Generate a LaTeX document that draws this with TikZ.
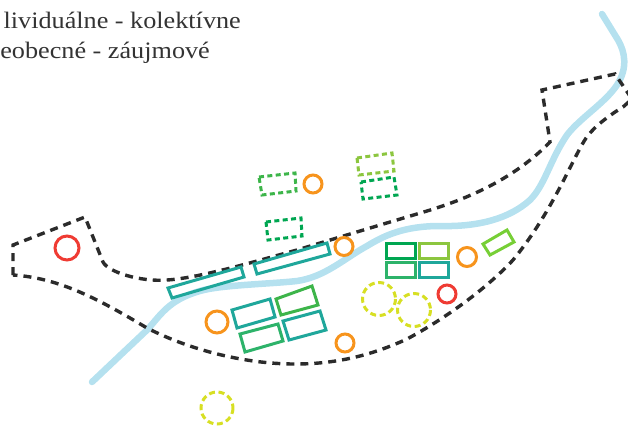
\documentclass[tikz,border=0pt]{standalone}
\usepackage{fontspec}
\setmainfont[FakeStretch=1.11]{Liberation Serif}
\definecolor{riverc}{HTML}{B5E1EF}
\definecolor{bordc}{HTML}{2B2B2B}
\definecolor{tealc}{HTML}{1FA79B}
\definecolor{greenc}{HTML}{2DB36A}
\definecolor{darkg}{HTML}{00A651}
\definecolor{brightg}{HTML}{3DB54A}
\definecolor{lightg}{HTML}{8CC63F}
\definecolor{orangec}{HTML}{F7941D}
\definecolor{redc}{HTML}{EF3B33}
\definecolor{yellowc}{HTML}{D7DF23}
\tikzset{
  river/.style={riverc,line width=6.5pt,line cap=round,line join=round},
  border/.style={bordc,line width=3.4pt,dash pattern=on 8pt off 6pt},
  lot/.style={line width=3pt,line join=miter},
  dlot/.style={line width=3pt,dash pattern=on 5pt off 3.4pt},
  ringc/.style={line width=3pt},
  yring/.style={yellowc,line width=3pt,dash pattern=on 6pt off 3.6pt},
  caption/.style={inner sep=0pt,text=black!80,font=\fontsize{23.6}{28}\selectfont}
}
\begin{document}
\begin{tikzpicture}[x=1pt,y=-1pt]
\useasboundingbox (0,0) rectangle (628,426);
\node[caption,anchor=base east] (t1) at (241,28) {lividuálne - kolektívne};
\node[caption,anchor=base east] (t2) at (210,58) {eobecné - záujmové};
\clip (0,0) rectangle (628,426);
% river
\draw[river] (92,382) -- (147,330)
  .. controls (160,316) and (168,300) .. (200,291)
  .. controls (220,285) and (270,284) .. (297,281)
  .. controls (325,277) and (345,258) .. (367,246)
  .. controls (385,235) and (405,226) .. (440,226)
  .. controls (480,227) and (510,218) .. (530,200)
  .. controls (545,185) and (550,160) .. (567,135)
  .. controls (580,118) and (605,103) .. (617,85)
  .. controls (628,68) and (625,52) .. (618,40) -- (602,14);
% border
\draw[border] (13,275) -- (13,245) -- (85,217) -- (103,262)
  .. controls (108,272) and (140,282) .. (167,280)
  .. controls (200,278) and (260,260) .. (297,250)
  .. controls (340,237) and (380,225) .. (427,211)
  .. controls (470,198) and (515,178) .. (550,142)
  -- (542,90) -- (615,74) -- (632,99) -- (623,107)
  .. controls (605,118) and (590,130) .. (583,143)
  .. controls (570,165) and (550,215) .. (513,260)
  .. controls (490,285) and (450,316) .. (407,339)
  .. controls (370,356) and (335,364) .. (295,364)
  .. controls (245,364) and (190,350) .. (147,328)
  .. controls (100,300) and (60,278) .. (13,275);
% dashed lots
\draw[dlot,brightg] (259,177) -- (295,173) -- (296,191) -- (262,195) -- cycle;
\draw[dlot,lightg] (357,158) -- (392,153) -- (394,171) -- (359,175) -- cycle;
\draw[dlot,darkg] (361,182) -- (394,177) -- (397,195) -- (363,199) -- cycle;
\draw[dlot,darkg] (266,222) -- (301,218) -- (302,236) -- (268,240) -- cycle;
% solid lots
\draw[lot,tealc] (168,288) -- (241,267) -- (244,277) -- (172,298) -- cycle;
\draw[lot,tealc] (254,264) -- (327,243) -- (330,254) -- (257,274) -- cycle;
\draw[lot,tealc] (232,310) -- (270,299) -- (275,317) -- (237,328) -- cycle;
\draw[lot,greenc] (240,334) -- (278,324) -- (283,341) -- (245,352) -- cycle;
\draw[lot,brightg] (276,299) -- (312,286) -- (318,305) -- (281,315) -- cycle;
\draw[lot,tealc] (283,321) -- (320,311) -- (326,330) -- (289,340) -- cycle;
\draw[lot,darkg] (386,243) rectangle (415,258);
\draw[lot,lightg] (419,243) rectangle (448,258);
\draw[lot,greenc] (386,262.5) rectangle (415,277);
\draw[lot,tealc] (419,262.5) rectangle (448,277);
\draw[lot,lightg!85!green] (483,244) -- (507,230) -- (514,242) -- (490,255) -- cycle;
% circles
\draw[ringc,orangec] (313,184) circle (9);
\draw[ringc,orangec] (344,246.5) circle (9);
\draw[ringc,orangec] (467,257) circle (9.5);
\draw[ringc,orangec] (345,343) circle (9);
\draw[ringc,orangec] (217,322) circle (11);
\draw[ringc,redc] (67,248) circle (12);
\draw[ringc,redc] (447,294) circle (9);
\draw[yring] (379,299) circle (16.5);
\draw[yring] (414,310) circle (16.5);
\draw[yring] (217,408) circle (16);
\end{tikzpicture}
\end{document}
